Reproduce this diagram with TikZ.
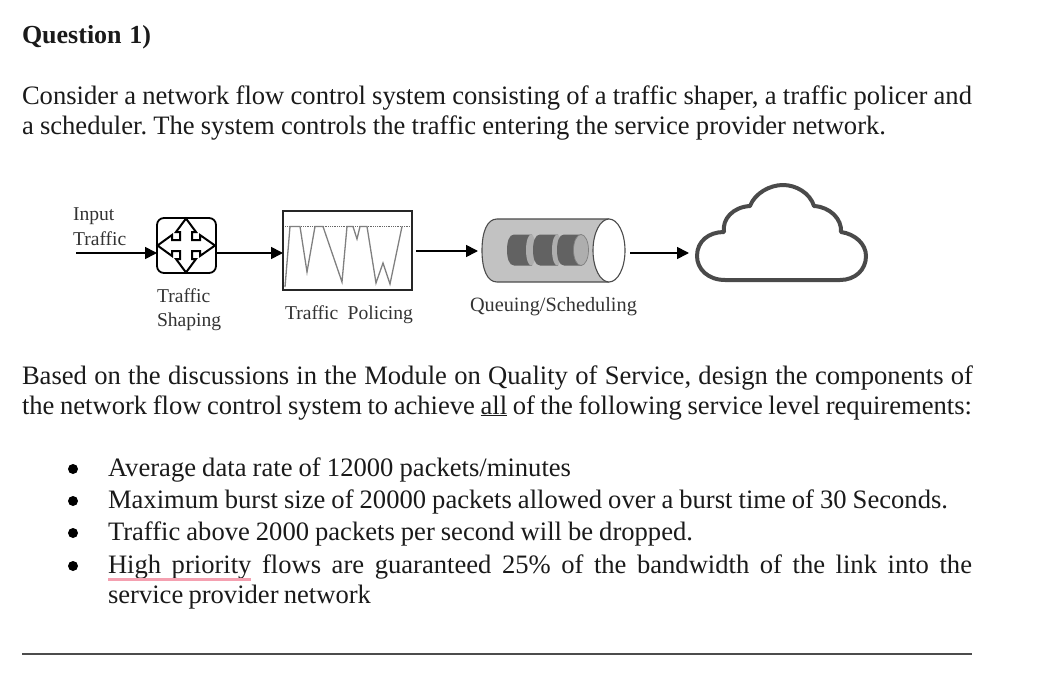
\documentclass[tikz,border=0pt]{standalone}
\usepackage{fontspec}
\setmainfont{Liberation Serif}
\usetikzlibrary{arrows.meta}
\definecolor{ink}{HTML}{1A1A1A}
\definecolor{cloudc}{HTML}{4A4A4A}
\definecolor{pinkline}{HTML}{F4A0B0}
\definecolor{qdark}{HTML}{626262}
\definecolor{qlight}{HTML}{AEAEAE}
\newcommand{\tl}[2]{\makebox[#1pt][s]{\frenchspacing #2}}
\newcommand{\qseg}[1]{%
  \fill[qdark] (#1+7,234.5) -- (#1+25,234.5) -- (#1+25,265.5) -- (#1+7,265.5) .. controls (#1+2,265.5) and (#1,258) .. (#1,250) .. controls (#1,242) and (#1+2,234.5) .. (#1+7,234.5) -- cycle;
}
\tikzset{
 bodytext/.style={anchor=base west,inner sep=0pt,outer sep=0pt,text=ink,font=\fontsize{26.6}{27}\selectfont},
 smalltext/.style={anchor=base west,inner sep=0pt,outer sep=0pt,text=black!80,font=\fontsize{19.6}{20}\selectfont},
 bulletdot/.style={circle,fill=black,inner sep=0pt,minimum size=10pt},
 flow/.style={line width=1.7pt,black,-{Triangle[length=12pt,width=12pt]}},
}
\begin{document}
\begin{tikzpicture}[x=1pt,y=-1pt]
\useasboundingbox (0,0) rectangle (1041,679);
% texts
\node[bodytext,font=\fontsize{26}{27}\selectfont\bfseries] (q) at (22,44) {\tl{129}{Question 1)}};
\node[bodytext] (l1) at (22,105) {\tl{950}{Consider a network flow control system consisting of a traffic shaper, a traffic policer and}};
\node[bodytext] (l2) at (22,135) {\tl{864}{a scheduler. The system controls the traffic entering the service provider network.}};
\node[bodytext] (l3) at (22,384) {\tl{951}{Based on the discussions in the Module on Quality of Service, design the components of}};
\node[bodytext] (l4) at (22,414) {\tl{950}{the network flow control system to achieve \underline{all} of the following service level requirements:}};
\node[bodytext] (b1) at (108,476) {\tl{463}{Average data rate of 12000 packets/minutes}};
\node[bodytext] (b2) at (108,508) {\tl{840}{Maximum burst size of 20000 packets allowed over a burst time of 30 Seconds.}};
\node[bodytext] (b3) at (108,540) {\tl{585}{Traffic above 2000 packets per second will be dropped.}};
\node[bodytext] (b4) at (108,573) {\tl{864}{High priority flows are guaranteed 25\% of the bandwidth of the link into the}};
\node[bodytext] (b5) at (108,603) {\tl{263}{service provider network}};
\node[bulletdot] (d1) at (73,469) {};
\node[bulletdot] (d2) at (73,501) {};
\node[bulletdot] (d3) at (73,533) {};
\node[bulletdot] (d4) at (73,566) {};
\draw[pinkline,line width=3pt] (108,579) -- (251,579);
\draw[black!70,line width=1.3pt] (22,654) -- (972,654);
% labels
\node[smalltext] (t1) at (73,220) {\tl{43}{Input}};
\node[smalltext] (t2) at (73,245) {\tl{55}{Traffic}};
\node[smalltext] (t3) at (157,302) {\tl{55}{Traffic}};
\node[smalltext] (t4) at (157,326) {\tl{66}{Shaping}};
\node[smalltext] (t5) at (285,319) {\tl{128}{Traffic Policing}};
\node[smalltext,font=\fontsize{20.3}{20}\selectfont] (t6) at (470,311) {\tl{167}{Queuing/Scheduling}};
% router
\node[draw=black,line width=1.8pt,rounded corners=7pt,minimum width=59pt,minimum height=55pt,inner sep=0pt,outer sep=0pt] (router) at (186.5,245.5) {};
\draw[black,line width=2pt,line join=miter]
 (186,218.5) -- (196,232) -- (192,232) -- (192,240) -- (200,240) -- (200,235) -- (215,245.5) -- (200,256) -- (200,251) -- (192,251) -- (192,259) -- (196,259) -- (186,272.5) -- (176,259) -- (180,259) -- (180,251) -- (172,251) -- (172,256) -- (157.5,245.5) -- (172,235) -- (172,240) -- (180,240) -- (180,232) -- (176,232) -- cycle;
% policer
\node[draw=black!85,line width=1.6pt,minimum width=129pt,minimum height=79pt,inner sep=0pt,outer sep=0pt] (policer) at (347.5,250.5) {};
\draw[black!60,line width=0.8pt,densely dotted] (285,226) -- (410,226);
\draw[black!50,line width=1.3pt,line join=miter] (285,287) -- (290,226.5) -- (300,226.5) -- (307,272) -- (315,226.5) -- (323,226.5) -- (342,282) -- (347,226.5) -- (353,226.5) -- (357,239) -- (360,226.5) -- (367,226.5) -- (376,283) -- (383,263) -- (390,284) -- (402,226.5);
% queue
\node[inner sep=0pt,outer sep=0pt,minimum width=144pt,minimum height=63pt] (queue) at (554,250.5) {};
\draw[black!70,line width=1.1pt,fill=black!24] (609,219) -- (497,219) .. controls (487,219) and (482,232) .. (482,250.5) .. controls (482,269) and (487,282) .. (497,282) -- (609,282);
\draw[black!70,line width=1.1pt,fill=white] (609,250.5) ellipse [x radius=16,y radius=31.5];
\qseg{507}
\fill[qlight] (531,250) ellipse [x radius=5,y radius=15.5];
\qseg{533}
\fill[qlight] (557,250) ellipse [x radius=5,y radius=15.5];
\qseg{557}
\fill[qlight] (581,250) ellipse [x radius=7.5,y radius=15.5];
\draw[black!50,line width=0.7pt] (581,250) ellipse [x radius=7.5,y radius=15.5];
% cloud
\node[inner sep=0pt,outer sep=0pt,minimum width=173pt,minimum height=99pt] (cloud) at (781.5,232.5) {};
\draw[cloudc,line width=4pt,line join=round]
 (725,280) .. controls (708,280) and (697,269) .. (697,256)
 .. controls (697,241) and (709,232) .. (724,232)
 .. controls (722,219) and (733,207) .. (750,206)
 .. controls (755,193) and (770,185) .. (783,185)
 .. controls (796,185) and (810,193) .. (814,206)
 .. controls (830,207) and (842,219) .. (841,232)
 .. controls (855,234) and (866,244) .. (866,256)
 .. controls (866,270) and (855,280) .. (840,280) -- cycle;
% connectors
\coordinate (in) at (76,253);
\draw[flow] (in) -- (in -| router.west);
\draw[flow] (router.east |- in) -- (policer.west |- in);
\coordinate (a) at (416,251);
\draw[flow,shorten >=4pt] (a) -- (a -| queue.west);
\coordinate (b) at (630,253);
\draw[flow,shorten >=6pt] (b) -- (b -| cloud.west);
\end{tikzpicture}
\end{document}
